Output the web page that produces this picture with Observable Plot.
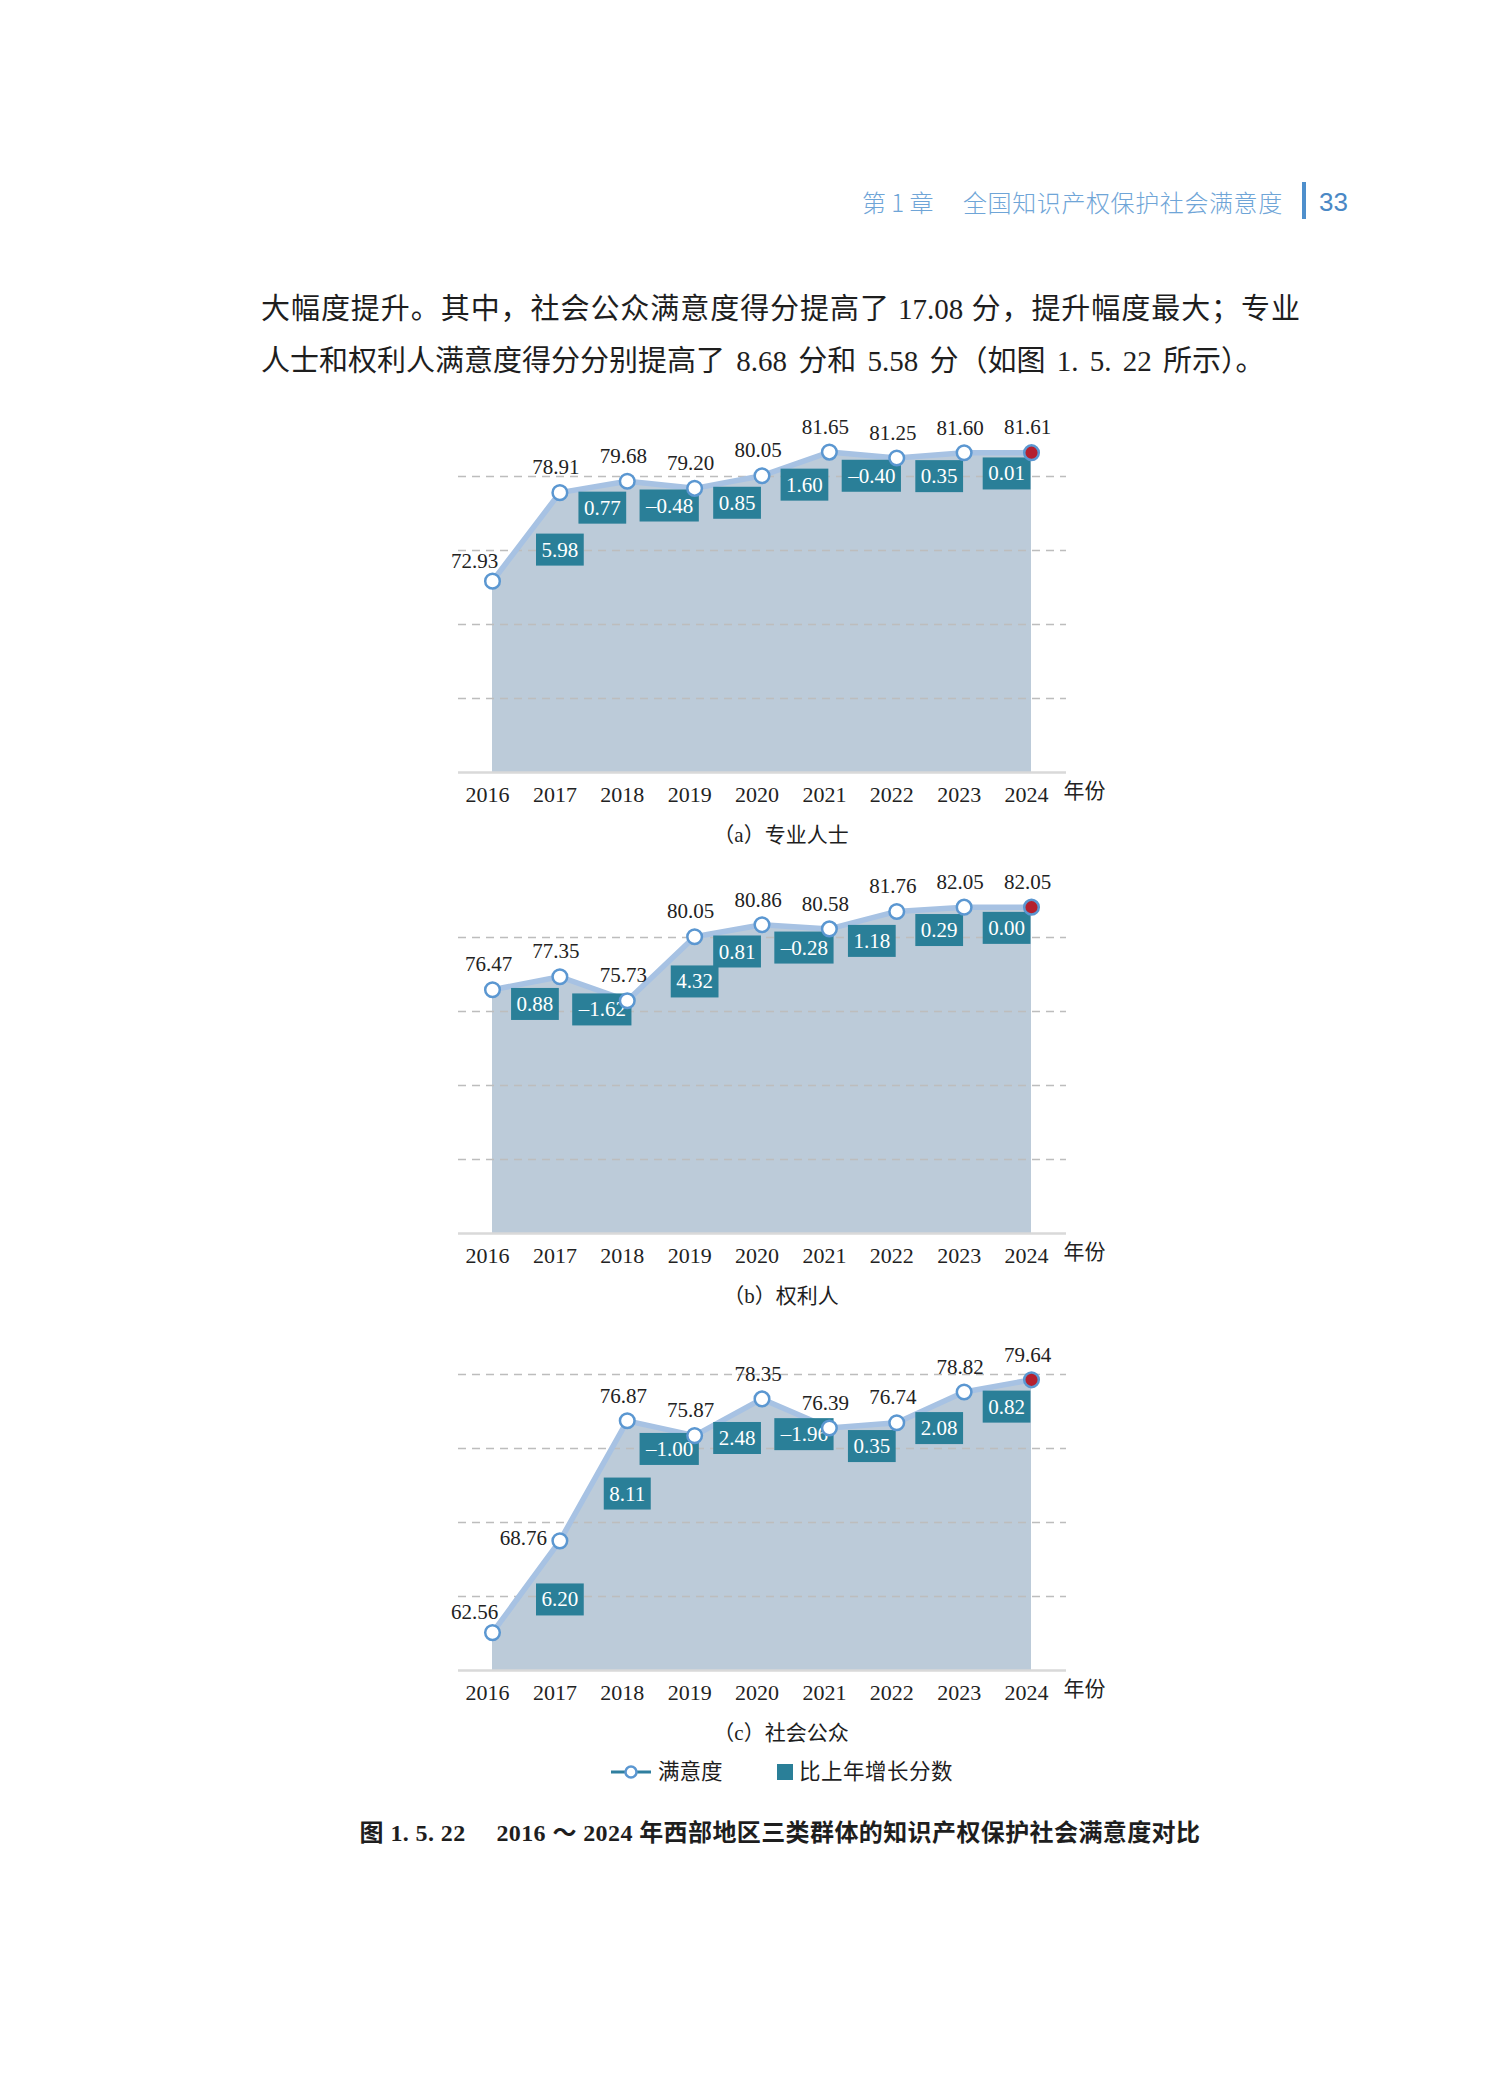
<!DOCTYPE html>
<html>
<head>
<meta charset="utf-8">
<script src="https://cdn.jsdelivr.net/npm/d3@7"></script>
<script src="https://cdn.jsdelivr.net/npm/@observablehq/plot@0.6"></script>
<style>
html, body { margin: 0; padding: 0; background: #fff; }
#page { position: relative; width: 1504px; height: 2094px; background: #fff; overflow: hidden; }
.abs { position: absolute; white-space: nowrap; }
.serif { font-family: "Liberation Serif", "Noto Sans CJK SC", serif; color: #1e1e1e; }
.sans { font-family: "Noto Sans CJK SC", "Liberation Sans", sans-serif; }
</style>
</head>
<body>
<div id="page"></div>
<script>
// ---------- data ----------
const years = [2016, 2017, 2018, 2019, 2020, 2021, 2022, 2023, 2024];
const proValues    = [72.93, 78.91, 79.68, 79.20, 80.05, 81.65, 81.25, 81.60, 81.61];
const proChanges   = [null, 5.98, 0.77, -0.48, 0.85, 1.60, -0.40, 0.35, 0.01];
const holderValues = [76.47, 77.35, 75.73, 80.05, 80.86, 80.58, 81.76, 82.05, 82.05];
const holderChanges= [null, 0.88, -1.62, 4.32, 0.81, -0.28, 1.18, 0.29, 0.00];
const publicValues = [62.56, 68.76, 76.87, 75.87, 78.35, 76.39, 76.74, 78.82, 79.64];
const publicChanges= [null, 6.20, 8.11, -1.00, 2.48, -1.96, 0.35, 2.08, 0.82];
const panelTitles  = ["（a）专业人士", "（b）权利人", "（c）社会公众"];
const gridValues   = [65, 70, 75, 80];
const yDomain      = [60, 85];
const xUnitLabel   = "年份";
const legendLabels = ["满意度", "比上年增长分数"];
const headerChapter = "第 1 章";
const headerTitle   = "全国知识产权保护社会满意度";
const pageNumber    = "33";
const paraLine1 = "大幅度提升。其中，社会公众满意度得分提高了 17.08 分，提升幅度最大；专业";
const paraLine2 = "人士和权利人满意度得分分别提高了 8.68 分和 5.58 分（如图 1. 5. 22 所示）。";
const figureCaption = "图 1. 5. 22　 2016 ～ 2024 年西部地区三类群体的知识产权保护社会满意度对比";

// ---------- styles ----------
const SERIF = '"Liberation Serif", "Noto Sans CJK SC", serif';
const AREA = "#bccbd9", LINE = "#a7c2e3", DOT = "#5b97d1", BOX = "#2a7f98", RED = "#b5202e";

const page = document.getElementById("page");
function addDiv(html, css, cls) {
  const d = document.createElement("div");
  d.className = "abs " + (cls || "");
  d.style.cssText = css;
  d.innerHTML = html;
  page.appendChild(d);
  return d;
}

// header
addDiv(headerChapter, "left:862px;top:187px;font-size:24px;line-height:30px;color:#6fa5d7;font-weight:300;", "sans");
addDiv(headerTitle, "left:963px;top:187px;font-size:24px;line-height:30px;color:#6fa5d7;letter-spacing:0.6px;font-weight:300;", "sans");
addDiv("", "left:1302px;top:182px;width:4px;height:37px;background:#4e8fcc;");
addDiv(pageNumber, "left:1319px;top:186px;font-size:26px;line-height:32px;color:#4a88c5;font-family:'Liberation Sans','Noto Sans',sans-serif;");

// paragraph
addDiv(paraLine1, "left:261px;top:283px;width:1039px;font-size:29px;line-height:52px;text-align:justify;text-align-last:justify;", "serif");
addDiv(paraLine2, "left:261px;top:335px;font-size:29px;line-height:52px;word-spacing:4px;", "serif");

const fmtChange = v => (v < 0 ? "–" : "") + Math.abs(v).toFixed(2);
const hasAxisMark = typeof Plot.axisX === "function";

function panel(values, changes) {
  const data = years.map((year, i) => ({
    year, value: values[i], change: changes[i],
    prev: i ? values[i - 1] : null,
    next: i < years.length - 1 ? values[i + 1] - values[i] : null,
    first: i === 0, last: i === years.length - 1
  }));
  const changeData = data.filter(d => d.change != null);
  const steep = d => Math.abs(d.change) > 4;
  const kind = d => (d.next != null && d.next > 7) ? "left" : (d.first && d.next > 5) ? "leftUp" : "above";
  const txt = {fontFamily: SERIF, fontSize: 21};
  const axisOpts = {ticks: years, tickFormat: d => String(d), tickSize: 0, tickPadding: 14, label: null};
  const marks = [
    Plot.areaY(data, {x: "year", y1: yDomain[0], y2: "value", fill: AREA}),
    Plot.ruleY(gridValues, {stroke: "#bdbdbd", strokeWidth: 1.6, strokeDasharray: "8,6"}),
    Plot.ruleY([yDomain[0]], {stroke: "#d9d9d9", strokeWidth: 2.5}),
    Plot.lineY(data, {x: "year", y: "value", stroke: LINE, strokeWidth: 5.5}),
    Plot.text(changeData.filter(d => !steep(d)), {
      x: d => d.year - 0.37, y: d => (d.prev + d.value) / 2, text: d => fmtChange(d.change),
      dy: 21, fill: "white", ...txt}),
    Plot.text(changeData.filter(steep), {
      x: "year", y: d => (d.prev + d.value) / 2, text: d => fmtChange(d.change),
      dy: 13, fill: "white", ...txt}),
    Plot.dot(data.filter(d => !d.last), {x: "year", y: "value", r: 7.3, fill: "#fff", stroke: DOT, strokeWidth: 2.5}),
    Plot.dot(data.filter(d => d.last), {x: "year", y: "value", r: 7.3, fill: RED, stroke: DOT, strokeWidth: 2.5}),
    Plot.text(data.filter(d => kind(d) === "above"), {x: "year", y: "value", text: d => d.value.toFixed(2), dx: -4, dy: -25, fill: "#222", ...txt}),
    Plot.text(data.filter(d => kind(d) === "leftUp"), {x: "year", y: "value", text: d => d.value.toFixed(2), dx: -18, dy: -20, fill: "#222", ...txt}),
    Plot.text(data.filter(d => kind(d) === "left"), {x: "year", y: "value", text: d => d.value.toFixed(2), dx: -13, dy: -3, textAnchor: "end", fill: "#222", ...txt}),
    Plot.text([xUnitLabel], {frameAnchor: "bottom-right", dx: 18, dy: 25, textAnchor: "middle", fill: "#222", fontFamily: SERIF, fontSize: 21})
  ];
  if (hasAxisMark) marks.push(Plot.axisX({...axisOpts, dx: -5, fontSize: 22, fontFamily: SERIF, fill: "#222"}));
  return Plot.plot({
    width: 680, height: 417,
    marginTop: 7, marginBottom: 40, marginLeft: 18, marginRight: 54,
    style: {fontFamily: SERIF, fontSize: "22px", color: "#222", background: "transparent", overflow: "visible"},
    x: hasAxisMark
      ? {domain: [2016, 2024], insetLeft: 34, insetRight: 35}
      : {domain: [2016, 2024], insetLeft: 34, insetRight: 35, ...axisOpts, line: false},
    y: {domain: yDomain, axis: null},
    marks
  });
}

function addBoxes(svg) {
  svg.querySelectorAll('g[fill="white"] text').forEach(t => {
    const b = t.getBBox();
    const cy = b.y + b.height / 2;
    const r = document.createElementNS("http://www.w3.org/2000/svg", "rect");
    r.setAttribute("x", b.x - 5.5);
    r.setAttribute("y", cy - 16);
    r.setAttribute("width", b.width + 11);
    r.setAttribute("height", 32);
    r.setAttribute("fill", BOX);
    r.setAttribute("stroke", "none");
    const tr = t.getAttribute("transform");
    if (tr) r.setAttribute("transform", tr);
    t.parentNode.insertBefore(r, t);
  });
}

const panels = [
  {values: proValues, changes: proChanges, top: 395},
  {values: holderValues, changes: holderChanges, top: 856},
  {values: publicValues, changes: publicChanges, top: 1293}
];
panels.forEach((p, i) => {
  const holder = addDiv("", `left:440px;top:${p.top}px;width:680px;height:417px;`);
  const svg = panel(p.values, p.changes);
  holder.appendChild(svg);
  addBoxes(svg);
  addDiv(panelTitles[i], `left:581px;width:400px;text-align:center;top:${p.top + 377 + 63 - 15}px;font-size:21px;line-height:30px;`, "serif");
});

// legend
addDiv(`<svg width="50" height="20" style="position:absolute;left:0;top:0">
  <line x1="0" y1="10" x2="40" y2="10" stroke="#2f7f9f" stroke-width="3"/>
  <circle cx="20" cy="10" r="5.5" fill="#fff" stroke="${DOT}" stroke-width="2.5"/></svg>
  <span style="position:absolute;left:47px;top:-5px;font-size:21.5px;line-height:30px;">${legendLabels[0]}</span>
  <span style="position:absolute;left:166px;top:2px;width:16px;height:16px;background:${BOX}"></span>
  <span style="position:absolute;left:188px;top:-5px;font-size:21.5px;line-height:30px;letter-spacing:0.5px;">${legendLabels[1]}</span>`,
  "left:611px;top:1762px;width:400px;height:22px;", "serif");

// figure caption
addDiv(figureCaption, "left:280px;width:1000px;text-align:center;top:1817px;font-size:24px;line-height:32px;font-weight:bold;letter-spacing:0.4px;", "serif");
</script>
</body>
</html>
